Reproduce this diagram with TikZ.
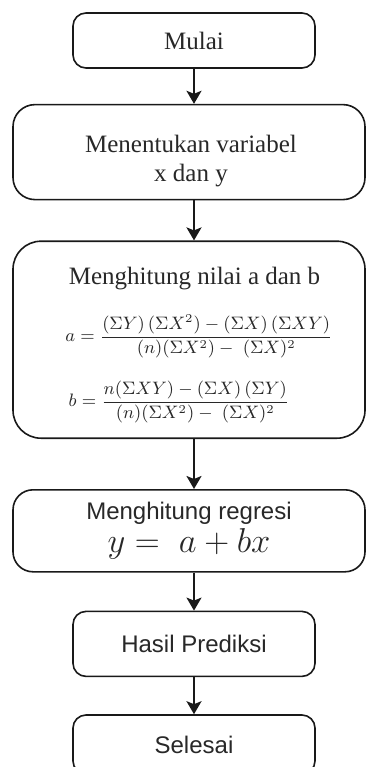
\documentclass[tikz,border=0pt]{standalone}
\usepackage{amsmath}
\usepackage{fontspec}
\setmainfont{Liberation Serif}
\setsansfont{Liberation Sans}
\usetikzlibrary{arrows.meta, positioning}
\definecolor{garis}{RGB}{25,25,25}
\definecolor{teks}{RGB}{40,40,40}

\begin{document}
\begin{tikzpicture}[
    node distance=17.5pt,
    kotak/.style={
        rectangle, rounded corners=6.5pt,
        draw=garis, line width=0.8pt,
        text=teks, align=center,
        inner sep=0pt
    },
    terminal/.style={kotak, minimum width=121pt},
    proses/.style={kotak, minimum width=176pt, rounded corners=11pt},
    serif/.style={font=\rmfamily\fontsize{12.5}{14.5}\selectfont, text=teks, align=center},
    sans/.style={font=\sffamily\fontsize{12}{14.5}\selectfont},
    rumus/.style={font=\fontsize{9}{11}\selectfont, text=teks, inner sep=0pt},
    arr/.style={-{Stealth[length=6.5pt, width=7.5pt, inset=1.5pt]}, line width=1pt, color=garis}
]
\path[use as bounding box, fill=white] (0,0) rectangle (183pt,-383.5pt);

\node[terminal, serif, minimum height=27.5pt] (mulai) at (97pt,-20.25pt) {Mulai};
\node[proses, minimum height=47.5pt, below=of mulai, xshift=-2.5pt] (tentukan) {};
\node[proses, minimum height=98.5pt, rounded corners=14pt, below=20pt of tentukan] (hitung) {};
\node[proses, sans, minimum height=41pt, rounded corners=10pt, below=25pt of hitung] (regresi)
    {Menghitung regresi\\[2pt]{\fontsize{17}{18}\selectfont$y =\ a + bx$}};
\node[terminal, sans, minimum height=32.5pt, below=19pt of regresi, xshift=2.5pt] (hasil) {Hasil Prediksi};
\node[terminal, sans, minimum height=29.5pt, below=18.5pt of hasil] (selesai) {Selesai};

% teks di dalam kotak
\node[serif, xshift=1pt, yshift=-4.5pt] (teksvar) at (tentukan) {Menentukan variabel\\x dan y};
\node[serif, xshift=2.75pt, yshift=-19pt] (judulab) at (hitung.north) {Menghitung nilai a dan b};
\node[rumus, xshift=5pt, yshift=-48pt] (rumusa) at (hitung.north)
    {$a = \dfrac{(\Sigma Y)\,(\Sigma X^2) - (\Sigma X)\,(\Sigma XY)}{(n)(\Sigma X^2) -\;(\Sigma X)^2}$};
\node[rumus, xshift=-5pt, yshift=-81pt] (rumusb) at (hitung.north)
    {$b = \dfrac{n(\Sigma XY) - (\Sigma X)\,(\Sigma Y)}{(n)(\Sigma X^2) -\;(\Sigma X)^2}$};

\draw[arr] (mulai) -- (mulai |- tentukan.north);
\draw[arr] (tentukan.south -| mulai) -- (mulai |- hitung.north);
\draw[arr] (hitung.south -| mulai) -- (mulai |- regresi.north);
\draw[arr] (regresi.south -| hasil) -- (hasil);
\draw[arr] (hasil) -- (selesai);

\end{tikzpicture}
\end{document}
